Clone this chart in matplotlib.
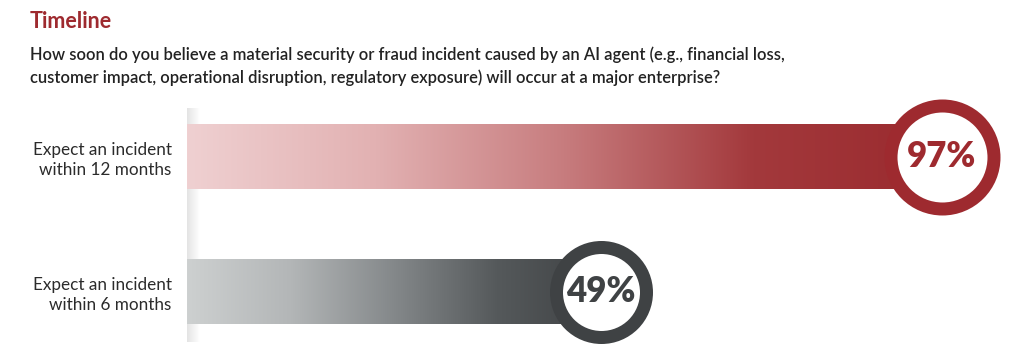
import numpy as np
from matplotlib import pyplot as plt
from matplotlib.colors import LinearSegmentedColormap

plt.rcParams['font.family'] = ['Lato', 'DejaVu Sans']

labels = ['Expect an incident\nwithin 12 months', 'Expect an incident\nwithin 6 months']
values = [97, 49]
pct_text = ['97%', '49%']

red_cmap  = LinearSegmentedColormap.from_list('red',  ['#efd0d1', '#e2b1b2', '#c77c7e', '#a3393c', '#9a2a2e'])
gray_cmap = LinearSegmentedColormap.from_list('gray', ['#cdd0d0', '#b3b6b7', '#84888a', '#55595b', '#3f4244'])
cmaps     = [red_cmap, gray_cmap]
ring_col  = ['#9e2a2f', '#3f4244']
ring_size = [116, 103]   # outer diameter in px

W, H = 1024, 361
fig = plt.figure(figsize=(W/100, H/100), dpi=100)

# title and question
fig.text(30/W, 1-22/H, 'Timeline', fontsize=15.5, fontweight='bold', color='#9e2a2f', va='center', ha='left')
fig.text(30/W, 1-55/H, 'How soon do you believe a material security or fraud incident caused by an AI agent (e.g., financial loss,',
		 fontsize=11.9, fontweight='semibold', color='#222222', va='center', ha='left')
fig.text(30/W, 1-78/H, 'customer impact, operational disruption, regulatory exposure) will occur at a major enterprise?',
		 fontsize=11.9, fontweight='semibold', color='#222222', va='center', ha='left')

# axes: left edge at x=187px, y from 95px to 355px
ax = fig.add_axes([187/W, 6/H, (W-187)/W, 260/H])
x_lim = [-9.3, 108.6]
y_lim = [1.47, -0.456]
ax.set_xlim(x_lim)
ax.set_ylim(y_lim)
for s in ax.spines.values():
	s.set_visible(False)
ax.set_xticks([])
ax.set_yticks(range(len(labels)))
ax.set_yticklabels(labels, fontsize=12.3, color='#2b2b2b', linespacing=1.3)
ax.tick_params(axis='y', length=0, pad=11)

# faint shadow at the left edge
shade = LinearSegmentedColormap.from_list('shade', ['#e4e4e4', '#ffffff'])
ax.imshow(np.linspace(0, 1, 50).reshape(1, -1), cmap=shade, aspect='auto',
		  extent=(x_lim[0], x_lim[0]+1.8, 1.37, -0.36), zorder=0)

bh = 0.48
grad = np.linspace(0, 1, 256).reshape(1, -1)
for i, v in enumerate(values):
	ax.imshow(grad, cmap=cmaps[i], aspect='auto', interpolation='bilinear',
			  extent=(x_lim[0], v, i+bh/2, i-bh/2), zorder=1)
	d = ring_size[i]
	lw = 13
	ax.scatter([v], [i], s=((d-lw)*0.72)**2, facecolors='white', edgecolors=ring_col[i],
			   linewidths=lw*0.72, zorder=3)
	ax.text(v, i, pct_text[i], fontsize=25, fontweight='heavy', color=ring_col[i],
			ha='center', va='center', zorder=4)

fig.savefig('out.png', dpi=100)
